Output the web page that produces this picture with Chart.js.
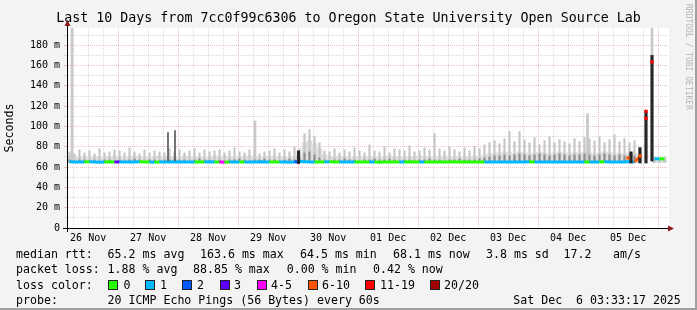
<!DOCTYPE html>
<html>
<head>
<meta charset="utf-8">
<title>Last 10 Days</title>
<script src="https://cdn.jsdelivr.net/npm/chart.js@4.4.1/dist/chart.umd.min.js"></script>
<style>
  html, body { margin: 0; padding: 0; background: #f3f3f3; }
  #wrap { position: relative; width: 697px; height: 310px; overflow: hidden; background: #f3f3f3; font-family: "DejaVu Sans Mono", monospace; }
  #c { position: absolute; left: 0; top: 0; }
  #title { position: absolute; left: 0; top: 10px; width: 697px; text-align: center; font-size: 13.3px; line-height: 16px; white-space: pre; }
  #rrd { position: absolute; left: 684px; top: 4px; writing-mode: vertical-rl; font-size: 8px; line-height: 9px; color: #b4b4b4; white-space: pre; }
  .txt { position: absolute; white-space: pre; font-size: 11.6px; line-height: 14px; color: #000; }
  .box { position: absolute; width: 8px; height: 8px; border: 1px solid #222; }
  #edgeR { position: absolute; right: 0; top: 0; width: 2px; height: 310px; background: #a0a0a0; }
  #edgeB { position: absolute; left: 0; bottom: 0; width: 697px; height: 2px; background: #a0a0a0; }
</style>
</head>
<body>
<div id="wrap">
  <canvas id="c" width="697" height="310"></canvas>
  <div id="title">Last 10 Days from 7cc0f99c6306 to Oregon State University Open Source Lab</div>
  <div id="rrd">RRDTOOL / TOBI OETIKER</div>
  <div id="legend"></div>
  <div id="edgeR"></div>
  <div id="edgeB"></div>
</div>
<script>
// x axis is hours since Nov 26 03:33 (10 days = 240 h), one slot = 2 hours
const dayLabels = ['26 Nov', '27 Nov', '28 Nov', '29 Nov', '30 Nov', '01 Dec', '02 Dec', '03 Dec', '04 Dec', '05 Dec'];
const startHourOfDay = 3.55;
const yTicks = [0, 10, 20, 30, 40, 50, 60, 70, 80, 90, 100, 110, 120, 130, 140, 150, 160, 170, 180, 190];
const minRtt = 64.5;

// median rtt per 2h slot (ms)
const median = [
  65.2, 65.0, 65.1, 65.0, 65.3, 65.0, 64.8, 65.0, 65.2, 65.0,
  65.1, 65.0, 64.9, 65.0, 65.2, 65.0, 65.0, 64.8, 65.1, 65.0,
  65.0, 65.2, 65.0, 64.9, 65.0, 65.1, 65.0, 65.0, 65.3, 65.0,
  65.0, 64.8, 65.0, 65.1, 65.0, 65.0, 64.9, 65.0, 65.2, 65.0,
  65.0, 65.1, 65.0, 65.0, 64.8, 65.0, 65.6, 65.3, 65.0, 65.1,
  65.0, 65.0, 65.2, 65.0, 65.0, 64.9, 65.0, 65.1, 65.0, 65.0,
  65.0, 65.0, 64.8, 65.0, 65.1, 65.0, 65.0, 65.0, 65.2, 65.0,
  65.0, 64.9, 65.0, 65.0, 65.1, 65.0, 65.0, 65.2, 65.0, 65.0,
  65.0, 65.1, 65.0, 65.0, 64.9, 65.0, 65.0, 65.1, 65.0, 65.0,
  65.0, 65.0, 65.2, 65.0, 65.0, 65.0, 64.9, 65.0, 65.1, 65.0,
  65.0, 65.0, 65.0, 65.1, 65.0, 65.0, 65.0, 65.2, 65.0, 65.0,
  65.0, 65.0, 65.4, 65.0, 70.0, null, null, 68.1, 68.1, 68.1
];

// lost pings (of 20) per slot
const lostPings = [
  1, 1, 1, 1, 0, 1, 1, 1, 0, 0,
  3, 1, 1, 1, 1, 0, 0, 1, 0, 1,
  1, 1, 1, 1, 1, 1, 0, 0, 1, 1,
  0, 4, 0, 1, 1, 0, 1, 1, 1, 1,
  1, 0, 0, 1, 1, 1, 2, 1, 1, 1,
  0, 0, 1, 0, 0, 1, 1, 1, 0, 0,
  0, 1, 0, 0, 0, 0, 0, 1, 0, 0,
  0, 1, 0, 0, 0, 0, 0, 0, 0, 0,
  0, 0, 0, 0, 1, 1, 1, 1, 1, 1,
  1, 1, 1, 0, 1, 1, 1, 1, 1, 1,
  1, 1, 1, 1, 0, 1, 1, 0, 1, 1,
  1, 1, 1, 1, 8, null, null, 0, 1, 0
];

// light smoke floor top (ms)
const smokeFill = [
  70, 69, 70, 71, 69, 70, 70, 69, 70, 71,
  70, 69, 70, 71, 70, 70, 69, 70, 71, 70,
  70, 70, 69, 71, 70, 70, 70, 69, 70, 71,
  70, 71, 70, 69, 70, 70, 71, 70, 69, 70,
  70, 71, 70, 70, 69, 70, 72, 84, 86, 83,
  78, 72, 70, 70, 71, 70, 69, 70, 70, 71,
  70, 70, 69, 70, 71, 70, 70, 69, 70, 70,
  71, 70, 70, 69, 70, 71, 70, 70, 69, 70,
  70, 71, 70, 72, 73, 74, 74, 75, 74, 73,
  75, 74, 73, 74, 75, 74, 73, 74, 75, 74,
  73, 74, 74, 75, 74, 73, 74, 75, 74, 73,
  74, 73, 74, 73, 72, null, null, 69, 69, 69
];

// highest ping per slot (ms)
const smokeMax = [
  75, 73, 77, 74, 76, 73, 78, 74, 75, 77,
  76, 74, 79, 75, 73, 77, 74, 76, 75, 74,
  78, 75, 77, 74, 76, 78, 74, 77, 75, 76,
  77, 74, 76, 79, 75, 74, 77, 76, 73, 75,
  76, 78, 74, 77, 75, 80, 78, 93, 97, 90,
  84, 76, 75, 78, 74, 77, 75, 79, 76, 74,
  82, 76, 75, 80, 74, 78, 77, 76, 81, 75,
  76, 79, 77, 93, 78, 76, 80, 77, 75, 79,
  76, 80, 78, 82, 84, 86, 83, 88, 95, 85,
  95, 87, 84, 89, 82, 86, 90, 84, 87, 85,
  83, 88, 85, 89, 88, 86, 90, 84, 87, 92,
  85, 88, 84, 86, 80, null, null, 70, 70, 70
];

// dense (dark) smoke top per slot (ms)
const smokeDark = [
  67, 66, 67, 67, 66, 67, 66, 67, 67, 66,
  67, 66, 67, 68, 67, 66, 67, 67, 66, 67,
  67, 68, 67, 67, 66, 67, 68, 67, 67, 66,
  67, 66, 67, 67, 68, 67, 66, 67, 67, 68,
  67, 67, 66, 67, 68, 67, 68, 74, 75, 72,
  69, 67, 66, 67, 67, 68, 67, 67, 66, 67,
  67, 68, 67, 67, 68, 67, 66, 67, 67, 66,
  67, 67, 68, 67, 67, 66, 67, 67, 68, 67,
  67, 67, 68, 69, 70, 71, 71, 72, 71, 72,
  73, 72, 71, 72, 73, 72, 71, 72, 73, 72,
  71, 72, 72, 73, 72, 71, 72, 73, 72, 71,
  72, 71, 72, 71, 70, null, null, null, null, null
];

// isolated tall spikes
const lightSpikeHours = [2.0, 75.2, 208.2, 234.0];
const lightSpikeLow = [64.5, 66, 66, 168];
const lightSpikeHigh = [197, 105.5, 112.5, 197];
const greySpikeHours = [40.4, 43.2];
const greySpikeLow = [66, 66];
const greySpikeHigh = [94, 96];
const blackSpikeHours = [92.6, 225.6, 229.2, 231.6, 234.0];
const blackSpikeLow = [63.5, 64, 64, 64, 66];
const blackSpikeHigh = [76, 75, 79, 115, 170];
const markerHours = [224.4, 229.2, 231.6, 231.6, 234.0];
const markerValues = [69, 71, 115, 108, 163.6];
const markerLoss = [8, 8, 15, 15, 15];

const lossLabels = ['0', '1', '2', '3', '4-5', '6-10', '11-19', '20/20'];
const lossUpper = [0, 1, 2, 3, 5, 10, 19, 20];
const lossColors = ['#26ff00', '#00b8ff', '#0059ff', '#5e00ff', '#ff00ff', '#ff5500', '#ff0000', '#a10000'];

function lossColor(n) {
  if (n === null || n === undefined) return 'rgba(0,0,0,0)';
  for (let i = 0; i < lossUpper.length; i++) {
    if (n <= lossUpper[i]) return lossColors[i];
  }
  return lossColors[lossColors.length - 1];
}

const slotHours = median.map((_, i) => 1 + 2 * i);
const pts = arr => arr.map((v, i) => ({ x: slotHours[i], y: v }));
const spikes = (hours, lo, hi) => hours.map((h, i) => ({ x: h, y: [lo[i], hi[i]] }));
const gridHours = [];
for (let k = 0; k < 40; k++) gridHours.push(6 - startHourOfDay + 6 * k);

function hourOfDay(v) { return ((startHourOfDay + v) % 24 + 24) % 24; }

const mono = 'DejaVu Sans Mono';
const majorGrid = 'rgba(225,130,130,0.5)';
const minorGrid = '#dadada';

const axisDecor = {
  id: 'axisDecor',
  beforeDraw(chart) {
    const { ctx, chartArea: a } = chart;
    ctx.save();
    ctx.fillStyle = '#ffffff';
    ctx.fillRect(a.left, a.top, a.right - a.left + 2, a.bottom - a.top);
    ctx.restore();
  },
  afterDraw(chart) {
    const { ctx, chartArea: a } = chart;
    ctx.save();
    ctx.strokeStyle = '#000';
    ctx.lineWidth = 1;
    ctx.beginPath();
    ctx.moveTo(a.left + 0.5, a.bottom + 4);
    ctx.lineTo(a.left + 0.5, a.top - 4);
    ctx.moveTo(a.left - 4, a.bottom + 0.5);
    ctx.lineTo(a.right + 2, a.bottom + 0.5);
    ctx.stroke();
    ctx.fillStyle = '#8b1a1a';
    ctx.beginPath();
    ctx.moveTo(a.left + 0.5, a.top - 8);
    ctx.lineTo(a.left - 2.5, a.top - 2);
    ctx.lineTo(a.left + 3.5, a.top - 2);
    ctx.closePath();
    ctx.fill();
    ctx.beginPath();
    ctx.moveTo(a.right + 7, a.bottom + 0.5);
    ctx.lineTo(a.right + 1, a.bottom - 2.5);
    ctx.lineTo(a.right + 1, a.bottom + 3.5);
    ctx.closePath();
    ctx.fill();
    ctx.restore();
  }
};

const barBase = { type: 'bar', grouped: false, borderWidth: 0 };

new Chart(document.getElementById('c'), {
  data: {
    datasets: [
      Object.assign({}, barBase, { data: pts(smokeFill), base: minRtt, barThickness: 5, backgroundColor: '#e0e0e0', order: 10 }),
      Object.assign({}, barBase, { data: pts(smokeMax), base: minRtt, barThickness: 1.5, backgroundColor: '#c6c6c6', order: 9 }),
      Object.assign({}, barBase, { data: spikes(lightSpikeHours, lightSpikeLow, lightSpikeHigh), barThickness: 2, backgroundColor: '#c8c8c8', order: 8 }),
      Object.assign({}, barBase, { data: pts(smokeDark), base: minRtt, barThickness: 1.5, backgroundColor: '#8e8e8e', order: 7 }),
      {
        type: 'line',
        data: pts(median),
        borderWidth: 3,
        pointRadius: 0,
        spanGaps: false,
        borderColor: '#00b8ff',
        segment: { borderColor: ctx => lossColor(lostPings[ctx.p1DataIndex]) },
        order: 3
      },
      Object.assign({}, barBase, { data: spikes(greySpikeHours, greySpikeLow, greySpikeHigh), barThickness: 1, backgroundColor: '#5a5a5a', order: 2 }),
      Object.assign({}, barBase, { data: spikes(blackSpikeHours, blackSpikeLow, blackSpikeHigh), barThickness: 2.5, backgroundColor: '#262626', order: 2 }),
      Object.assign({}, barBase, {
        data: markerHours.map((h, i) => ({ x: h, y: [markerValues[i] - 1.3, markerValues[i] + 1.3] })),
        barThickness: 2.5, backgroundColor: ctx => lossColor(markerLoss[ctx.dataIndex]), order: 1
      })
    ]
  },
  options: {
    responsive: false,
    devicePixelRatio: 1,
    animation: false,
    events: [],
    layout: { padding: { left: 0, right: 30, top: 28, bottom: 62 } },
    plugins: { legend: { display: false }, tooltip: { enabled: false }, title: { display: false } },
    scales: {
      x: {
        type: 'linear',
        min: 0,
        max: 240,
        offset: false,
        afterBuildTicks: s => { s.ticks = gridHours.map(v => ({ value: v })); },
        afterFit: s => { s.height = 20; },
        ticks: {
          autoSkip: false,
          maxRotation: 0,
          padding: 4,
          color: '#000',
          font: { family: mono, size: 10 },
          callback: v => Math.abs(hourOfDay(v) - 12) < 0.01 ? dayLabels[Math.floor((startHourOfDay + v) / 24)] : ''
        },
        grid: {
          offset: false,
          drawTicks: false,
          color: ctx => (ctx.tick && hourOfDay(ctx.tick.value) < 0.01) ? majorGrid : minorGrid
        },
        border: { display: true, color: '#000', dash: [1, 1] }
      },
      y: {
        min: 0,
        max: 197,
        afterBuildTicks: s => { s.ticks = yTicks.map(v => ({ value: v })); },
        afterFit: s => { s.width = 67; },
        ticks: {
          autoSkip: false,
          padding: 4,
          color: '#000',
          font: { family: mono, size: 10 },
          callback: v => v === 0 ? '0' : (v % 20 === 0 ? v + ' m' : '')
        },
        grid: {
          tickLength: 3,
          color: ctx => (ctx.tick && ctx.tick.value % 20 === 0) ? majorGrid : minorGrid,
          tickColor: ctx => (ctx.tick && ctx.tick.value % 20 === 0) ? majorGrid : minorGrid
        },
        border: { display: true, color: '#000', dash: [1, 1] },
        title: { display: true, text: 'Seconds', color: '#000', font: { family: mono, size: 11.6 }, padding: { top: 3, bottom: 3 } }
      }
    }
  },
  plugins: [axisDecor]
});

// legend text under the plot
const legendRows = [
  { top: 247, items: [[16, 'median rtt:'], [107.6, '65.2 ms avg'], [200, '163.6 ms max'], [300, '64.5 ms min'], [393, '68.1 ms now'], [486, '3.8 ms sd'], [563.6, '17.2'], [613, 'am/s']] },
  { top: 262, items: [[16, 'packet loss:'], [107.6, '1.88 % avg'], [193, '88.85 % max'], [286.7, '0.00 % min'], [373, '0.42 % now']] },
  { top: 278, items: [[16, 'loss color:']] },
  { top: 293, items: [[16, 'probe:'], [107.6, '20 ICMP Echo Pings (56 Bytes) every 60s'], [513.3, 'Sat Dec  6 03:33:17 2025']] }
];
const boxLeft = [108, 145, 182, 219.5, 257, 307.5, 365, 430];
const lossLabelLeft = [123.5, 160, 197, 234, 271, 322, 380, 444];
const legend = document.getElementById('legend');
legendRows.forEach(row => {
  row.items.forEach(([x, text]) => {
    const d = document.createElement('div');
    d.className = 'txt';
    d.style.left = x + 'px';
    d.style.top = row.top + 'px';
    d.textContent = text;
    legend.appendChild(d);
  });
});
lossLabels.forEach((lab, i) => {
  const b = document.createElement('div');
  b.className = 'box';
  b.style.left = boxLeft[i] + 'px';
  b.style.top = (legendRows[2].top + 2) + 'px';
  b.style.background = lossColors[i];
  legend.appendChild(b);
  const t = document.createElement('div');
  t.className = 'txt';
  t.style.left = lossLabelLeft[i] + 'px';
  t.style.top = legendRows[2].top + 'px';
  t.textContent = lab;
  legend.appendChild(t);
});
</script>
</body>
</html>
